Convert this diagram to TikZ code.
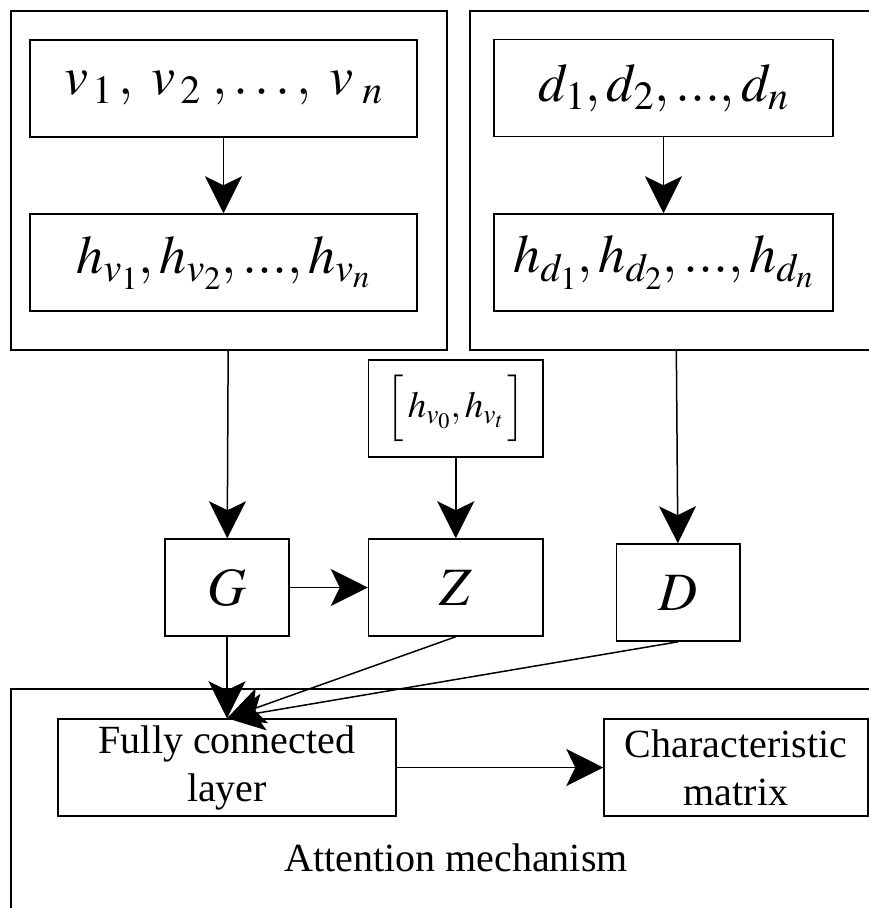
\documentclass[tikz,border=0pt]{standalone}
\usepackage{mathptmx}
\usepackage{fontspec}
\setmainfont{Liberation Serif}
\usetikzlibrary{arrows.meta}
\begin{document}
\begin{tikzpicture}[x=1pt,y=-1pt,>={Stealth[length=37pt,width=37pt,inset=9pt]},
  box/.style={draw,line width=1.5pt,inner sep=0pt,minimum height=97pt},
  mtxt/.style={font=\fontsize{54}{60}\selectfont},
  wtxt/.style={font=\fontsize{40}{48}\selectfont,align=center}]
  \clip (0,0) rectangle (869,908);
  \node[box,minimum width=436pt,minimum height=339pt] (leftouter) at (229,180.5) {};
  \node[box,minimum width=410pt,minimum height=339pt] (rightouter) at (675,180.5) {};
  \node[box,minimum width=869pt,minimum height=231pt] (attnbox) at (445.5,804.5) {};
  \node[box,mtxt,minimum width=387pt] (vlist) at (223.5,88.5) {$v_{\,1}\,,\;v_{\,2}\;,\ldots,\;v_{\;n}$};
  \node[box,mtxt,minimum width=387pt] (hvlist) at (223.5,262.5) {$h_{v_1},h_{v_2},...,h_{v_n}$};
  \node[box,mtxt,minimum width=339pt] (dlist) at (663.5,88) {$d_1,d_2,...,d_n$};
  \node[box,mtxt,minimum width=339pt] (hdlist) at (663.5,262.5) {$h_{d_1},h_{d_2},...,h_{d_n}$};
  \node[box,font=\fontsize{37}{42}\selectfont,minimum width=174.5pt] (hpair) at (455.75,408.5) {$\Bigl[\,h_{v_0},h_{v_t}\,\Bigr]$};
  \node[box,mtxt,minimum width=124pt] (G) at (227,587.5) {$G$};
  \node[box,mtxt,minimum width=174.5pt] (Z) at (455.75,587.5) {$Z$};
  \node[box,mtxt,minimum width=123.5pt] (D) at (678.25,592.5) {$D$};
  \node[box,wtxt,minimum width=338pt] (fc) at (227,767.5) {Fully connected\\layer};
  \node[box,wtxt,minimum width=264pt] (cm) at (736,767.5) {Characteristic\\matrix};
  \node[wtxt] (attn) at (456,858) {Attention mechanism};
  \draw[->,line width=1.5pt] (vlist) -- (hvlist);
  \draw[->,line width=1.5pt] (dlist) -- (hdlist);
  \draw[->,line width=1.5pt] (leftouter) -- (G);
  \draw[->,line width=1.5pt] (rightouter) -- (D);
  \draw[->,line width=1.5pt] (hpair) -- (Z);
  \draw[->,line width=1.5pt] (G) -- (Z);
  \draw[->,line width=1.5pt] (G) -- (fc);
  \draw[->,line width=1.5pt] (Z.south) -- (fc.north);
  \draw[->,line width=1.5pt] (D.south) -- (fc.north);
  \draw[->,line width=1.5pt] (fc) -- (cm);
\end{tikzpicture}
\end{document}
